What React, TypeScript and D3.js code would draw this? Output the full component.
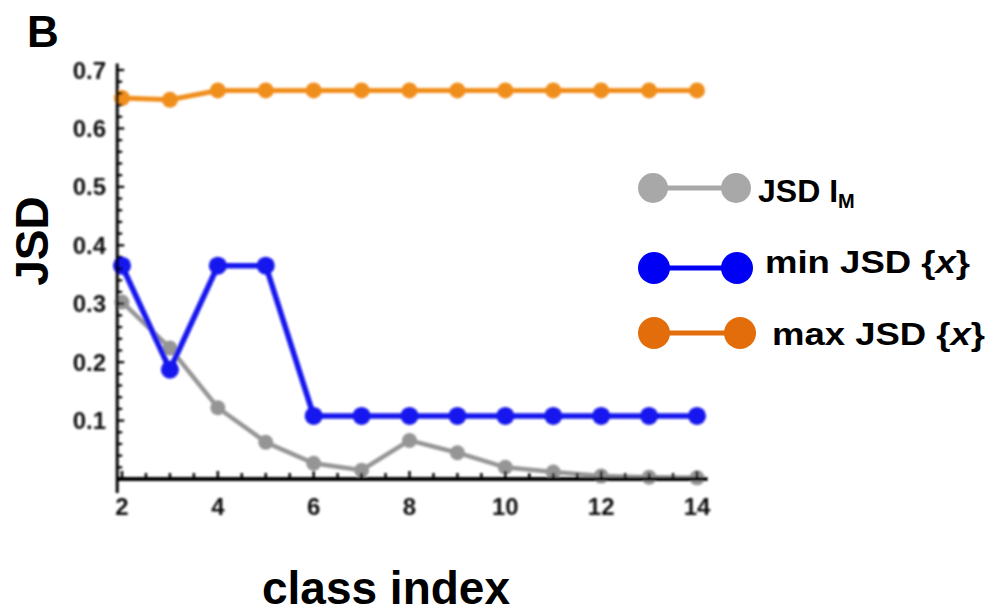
import React from "react";
import * as d3 from "d3";

// Class indices on the x axis
const classIndex = [2, 3, 4, 5, 6, 7, 8, 9, 10, 11, 12, 13, 14];
// JSD of the mixture I_M
const jsdIM = [0.303, 0.224, 0.122, 0.063, 0.027, 0.015, 0.066, 0.045, 0.02, 0.012, 0.005, 0.003, 0.002];
// Minimum JSD over {x}
const minJSD = [0.365, 0.187, 0.365, 0.365, 0.108, 0.108, 0.108, 0.108, 0.108, 0.108, 0.108, 0.108, 0.108];
// Maximum JSD over {x}
const maxJSD = [0.652, 0.649, 0.665, 0.665, 0.665, 0.665, 0.665, 0.665, 0.665, 0.665, 0.665, 0.665, 0.665];

const xTickLabels = [2, 4, 6, 8, 10, 12, 14];
const yTickLabels = [0.1, 0.2, 0.3, 0.4, 0.5, 0.6, 0.7];

const FONT = "'Liberation Sans', Arial, Helvetica, sans-serif";

export default function App() {
  const x = d3.scaleLinear().domain([2, 14]).range([122, 697]);
  const y = d3.scaleLinear().domain([0, 0.7]).range([479, 70]);

  const line = d3
    .line<[number, number]>()
    .x((d) => x(d[0]))
    .y((d) => y(d[1]));

  const series = [
    { values: jsdIM, color: "#959595", r: 7.5, w: 4.5 },
    { values: minJSD, color: "#1212ee", r: 9, w: 5.5 },
    { values: maxJSD, color: "#f08e1d", r: 8, w: 5 },
  ];

  const xMinor = d3.range(2, 14.01, 0.5);
  const yMinor = d3.range(0.02, 0.705, 0.02);

  const legend = [
    { label: "jsd", color: "#a8a8a8", cy: 188, x1: 653, x2: 736, r: 15 },
    { label: "min", color: "#0000f5", cy: 268, x1: 654, x2: 737, r: 16 },
    { label: "max", color: "#e46d0b", cy: 333, x1: 654, x2: 740, r: 16 },
  ];

  return (
    <svg
      width={994}
      height={616}
      style={{ position: "absolute", left: 0, top: 0, background: "#fff" }}
      fontFamily={FONT}
    >
      <defs>
        <filter id="soft" x="-5%" y="-5%" width="110%" height="110%">
          <feGaussianBlur stdDeviation="0.8" />
        </filter>
      </defs>

      <text x={27} y={47} fontSize={44} fontWeight="bold" fill="#000">
        B
      </text>

      <g filter="url(#soft)">
        {series.map((s, i) => {
          const pts = classIndex.map((c, j) => [c, s.values[j]] as [number, number]);
          return (
            <g key={i}>
              <path d={line(pts) || ""} fill="none" stroke={s.color} strokeWidth={s.w} />
              {pts.map((p, j) => (
                <circle key={j} cx={x(p[0])} cy={y(p[1])} r={s.r} fill={s.color} />
              ))}
            </g>
          );
        })}

        {/* x axis */}
        <line x1={x(1.9)} x2={x(14.22)} y1={y(0)} y2={y(0)} stroke="#000" strokeWidth={4} />
        {xMinor.map((t, i) => {
          const major = Math.abs(t % 2) < 1e-6;
          return (
            <line
              key={i}
              x1={x(t)}
              x2={x(t)}
              y1={y(0)}
              y2={y(0) - (major ? 8 : 6)}
              stroke="#000"
              strokeWidth={2.5}
            />
          );
        })}
        {xTickLabels.map((t) => (
          <text
            key={t}
            x={x(t)}
            y={515}
            textAnchor="middle"
            fontSize={24}
            fontWeight="bold"
            fill="#111"
          >
            {t}
          </text>
        ))}

        {/* y axis */}
        <line x1={x(1.9)} x2={x(1.9)} y1={y(0.711)} y2={493} stroke="#000" strokeWidth={3} />
        {yMinor.map((t, i) => {
          const major = Math.abs(Math.round(t * 10) - t * 10) < 1e-6;
          return (
            <line
              key={i}
              x1={x(1.9)}
              x2={x(1.9) + (major ? 7 : 5)}
              y1={y(t)}
              y2={y(t)}
              stroke="#000"
              strokeWidth={2.3}
            />
          );
        })}
        {yTickLabels.map((t) => (
          <text
            key={t}
            x={106}
            y={y(t)}
            dy="0.36em"
            textAnchor="end"
            fontSize={24}
            fontWeight="bold"
            fill="#111"
          >
            {t.toFixed(1)}
          </text>
        ))}
      </g>

      {/* axis titles */}
      <text
        transform="translate(48,241) rotate(-90)"
        textAnchor="middle"
        fontSize={46}
        fontWeight="bold"
        fill="#000"
      >
        JSD
      </text>
      <text x={386} y={604} textAnchor="middle" fontSize={46} fontWeight="bold" fill="#000">
        class index
      </text>

      {/* legend */}
      {legend.map((l) => (
        <g key={l.label}>
          <line x1={l.x1} x2={l.x2} y1={l.cy} y2={l.cy} stroke={l.color} strokeWidth={5} />
          <circle cx={l.x1} cy={l.cy} r={l.r} fill={l.color} />
          <circle cx={l.x2} cy={l.cy} r={l.r} fill={l.color} />
        </g>
      ))}
      <text x={758} y={202} fontSize={32} fontWeight="bold" fill="#000">
        JSD I
        <tspan fontSize={20} dy={6}>
          M
        </tspan>
      </text>
      <text x={765} y={273} fontSize={32} fontWeight="bold" fill="#000" textLength={205} lengthAdjust="spacingAndGlyphs">
        min JSD {"{"}
        <tspan fontStyle="italic">x</tspan>
        {"}"}
      </text>
      <text x={772} y={345} fontSize={32} fontWeight="bold" fill="#000" textLength={213} lengthAdjust="spacingAndGlyphs">
        max JSD {"{"}
        <tspan fontStyle="italic">x</tspan>
        {"}"}
      </text>
    </svg>
  );
}
